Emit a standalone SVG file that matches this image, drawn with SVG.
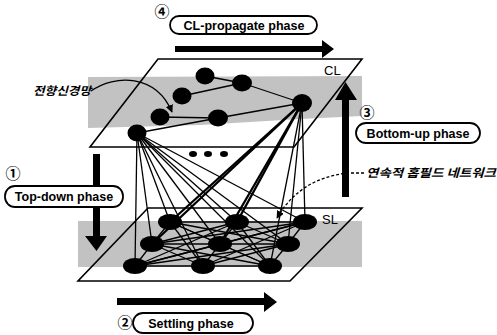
<svg xmlns="http://www.w3.org/2000/svg" width="497" height="335" viewBox="0 0 497 335">
<style>
.plane{fill:none;stroke:#000;stroke-width:1.6}
.shade{fill:#c2c2c2}
.node{fill:#000}
.e{stroke:#000;stroke-width:1.3;fill:none}
.t{stroke:#000;stroke-width:2.3;fill:none}
.box{fill:#fff;stroke:#000;stroke-width:1.8}
.lbl{font-family:"Liberation Sans",Arial,sans-serif;font-weight:bold;font-size:12.5px;fill:#000}
.kr{font-family:"Noto Sans CJK KR",sans-serif;font-weight:bold;font-style:italic;font-size:11.5px;fill:#000}
.num{font-family:"Noto Sans CJK KR",sans-serif;font-weight:bold;font-size:15px;fill:#000;text-anchor:middle}
.pl{font-family:"Liberation Sans",Arial,sans-serif;font-size:13px;fill:#000}
.arr{fill:#000}
</style>
<defs>
<marker id="ah" viewBox="0 0 10 10" refX="9" refY="5" markerWidth="6" markerHeight="6" orient="auto"><path d="M0,0 L10,5 L0,10 z" fill="#000"/></marker>
</defs>

<g id="shading">
<polygon class="shade" points="88,77 362,76 362,116 300,119 200,125 88,128"/>
<rect class="shade" x="78" y="221" width="284" height="46"/>
</g>

<g id="planes">
<polygon id="cl-plane" class="plane" points="158,59 362,59 294,147 90,147"/>
<polygon id="sl-plane" class="plane" points="148,208 362,208 290,281 78,281"/>
<text class="pl" x="324" y="75">CL</text>
<text class="pl" x="322" y="224">SL</text>
</g>

<g id="connectors">
<line class="e" x1="205" y1="76" x2="242" y2="83"/>
<line class="e" x1="182" y1="96" x2="242" y2="83"/>
<line class="e" x1="242" y1="83" x2="302" y2="103"/>
<line class="e" x1="160" y1="117" x2="218" y2="118"/>
<line class="e" x1="137" y1="133" x2="218" y2="118"/>
<line class="e" x1="218" y1="118" x2="302" y2="103"/>
<line class="e" x1="137" y1="133" x2="135" y2="266"/>
<line class="e" x1="137" y1="133" x2="152" y2="244"/>
<line class="e" x1="137" y1="133" x2="170" y2="222"/>
<line class="e" x1="137" y1="133" x2="203" y2="266"/>
<line class="e" x1="137" y1="133" x2="220" y2="244"/>
<line class="e" x1="137" y1="133" x2="237" y2="222"/>
<line class="e" x1="137" y1="133" x2="270" y2="266"/>
<line class="e" x1="137" y1="133" x2="288" y2="244"/>
<line class="e" x1="137" y1="133" x2="305" y2="222"/>
<line class="t" x1="302" y1="103" x2="170" y2="222"/>
<line class="t" x1="302" y1="103" x2="152" y2="244"/>
<line class="t" x1="302" y1="103" x2="237" y2="222"/>
<line class="t" x1="302" y1="103" x2="220" y2="244"/>
<line class="e" x1="302" y1="103" x2="270" y2="266"/>
<line class="e" x1="302" y1="103" x2="288" y2="244"/>
<line class="e" x1="302" y1="103" x2="305" y2="222"/>
<g class="e">
<line x1="170" y1="222" x2="237" y2="222"/><line x1="237" y1="222" x2="305" y2="222"/>
<line x1="152" y1="244" x2="220" y2="244"/><line x1="220" y1="244" x2="288" y2="244"/>
<line x1="135" y1="266" x2="203" y2="266"/><line x1="203" y1="266" x2="270" y2="266"/>
<line x1="170" y1="222" x2="152" y2="244"/><line x1="152" y1="244" x2="135" y2="266"/>
<line x1="237" y1="222" x2="220" y2="244"/><line x1="220" y1="244" x2="203" y2="266"/>
<line x1="305" y1="222" x2="288" y2="244"/><line x1="288" y1="244" x2="270" y2="266"/>
<line x1="170" y1="222" x2="220" y2="244"/><line x1="170" y1="222" x2="288" y2="244"/>
<line x1="170" y1="222" x2="203" y2="266"/><line x1="170" y1="222" x2="270" y2="266"/>
<line x1="237" y1="222" x2="152" y2="244"/><line x1="237" y1="222" x2="288" y2="244"/>
<line x1="237" y1="222" x2="135" y2="266"/><line x1="237" y1="222" x2="270" y2="266"/>
<line x1="305" y1="222" x2="220" y2="244"/><line x1="305" y1="222" x2="152" y2="244"/>
<line x1="305" y1="222" x2="203" y2="266"/><line x1="305" y1="222" x2="135" y2="266"/>
<line x1="152" y1="244" x2="203" y2="266"/><line x1="152" y1="244" x2="270" y2="266"/>
<line x1="220" y1="244" x2="135" y2="266"/><line x1="220" y1="244" x2="270" y2="266"/>
<line x1="288" y1="244" x2="203" y2="266"/><line x1="288" y1="244" x2="135" y2="266"/>
</g>
<path class="e" d="M91,91 C115,74 156,74 172,112" marker-end="url(#ah)" stroke-width="1.1"/>
<path class="e" d="M364,173 L348,173 Q300,178 277,218" stroke-dasharray="3,2" marker-end="url(#ah)" stroke-width="1.1"/>
</g>

<g id="cl-nodes">
<g id="cl1"><ellipse class="node" cx="205" cy="76" rx="9.5" ry="8.5"/></g>
<g id="cl2"><ellipse class="node" cx="242" cy="83" rx="10" ry="8.5"/></g>
<g id="cl3"><ellipse class="node" cx="182" cy="96" rx="9.5" ry="8.5"/></g>
<g id="cl4"><ellipse class="node" cx="160" cy="117" rx="9.5" ry="8.5"/></g>
<g id="cl5"><ellipse class="node" cx="218" cy="118" rx="10" ry="8.5"/></g>
<g id="cl6"><ellipse class="node" cx="137" cy="133" rx="9.5" ry="8.5"/></g>
<g id="cl7"><ellipse class="node" cx="302" cy="103" rx="10" ry="9"/></g>
</g>

<g id="ellipsis">
<ellipse class="node" cx="193" cy="154" rx="4" ry="3"/>
<ellipse class="node" cx="208" cy="154" rx="4" ry="3"/>
<ellipse class="node" cx="224" cy="154" rx="4" ry="3"/>
</g>

<g id="sl-nodes">
<g id="sl1"><ellipse class="node" cx="170" cy="222" rx="12" ry="8"/></g>
<g id="sl2"><ellipse class="node" cx="237" cy="222" rx="12" ry="8"/></g>
<g id="sl3"><ellipse class="node" cx="305" cy="222" rx="12" ry="8"/></g>
<g id="sl4"><ellipse class="node" cx="152" cy="244" rx="12" ry="8"/></g>
<g id="sl5"><ellipse class="node" cx="220" cy="244" rx="12" ry="8"/></g>
<g id="sl6"><ellipse class="node" cx="288" cy="244" rx="12" ry="8"/></g>
<g id="sl7"><ellipse class="node" cx="135" cy="266" rx="12" ry="8"/></g>
<g id="sl8"><ellipse class="node" cx="203" cy="266" rx="12" ry="8"/></g>
<g id="sl9"><ellipse class="node" cx="270" cy="266" rx="12" ry="8"/></g>
</g>

<g id="phase4">
<polygon class="arr" points="175,46 322,46 322,40 334,49 322,58 322,52 175,52"/>
<text class="num" x="162" y="17">④</text>
<rect class="box" x="170" y="16" width="147" height="18" rx="9"/>
<text class="lbl" x="244" y="30" text-anchor="middle">CL-propagate phase</text>
</g>

<g id="phase3">
<polygon class="arr" points="342,197 342,100 335,100 345.5,82 357,100 349,100 349,197"/>
<text class="num" x="367" y="118">③</text>
<rect class="box" x="356" y="123" width="124" height="20" rx="10"/>
<text class="lbl" x="418" y="138" text-anchor="middle">Bottom-up phase</text>
</g>

<g id="phase1">
<polygon class="arr" points="93,154 100,154 100,236 107,236 96.5,251 85,236 93,236"/>
<text class="num" x="13" y="179">①</text>
<rect class="box" x="5" y="186" width="118" height="21" rx="10"/>
<text class="lbl" x="64" y="201" text-anchor="middle">Top-down phase</text>
</g>

<g id="phase2">
<polygon class="arr" points="117,298 264,298 264,292 277,302 264,312 264,305 117,305"/>
<text class="num" x="125" y="328">②</text>
<rect class="box" x="133" y="313" width="120" height="20" rx="10"/>
<text class="lbl" x="191" y="327.5" text-anchor="middle">Settling phase</text>
</g>

<g id="annotations">
<text class="kr" x="33" y="95" textLength="58" lengthAdjust="spacingAndGlyphs">전향신경망</text>
<text class="kr" x="366" y="177" textLength="130" lengthAdjust="spacingAndGlyphs">연속적 홉필드 네트워크</text>
</g>
</svg>
